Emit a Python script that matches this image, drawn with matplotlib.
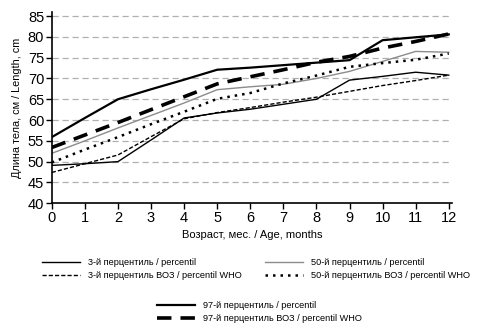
import matplotlib
matplotlib.use("Agg")
import matplotlib.pyplot as plt

plt.rcParams['font.family'] = ['Liberation Sans', 'DejaVu Sans']

months = list(range(13))
p3 = [49.1, 49.5, 50.0, 55.2, 60.5, 61.7, 62.6, 63.8, 65.0, 69.6, 70.5, 71.5, 70.8]
p3_who = [47.4, 49.5, 51.6, 56.0, 60.3, 61.8, 63.0, 64.3, 65.5, 66.9, 68.3, 69.5, 70.8]
p50 = [52.0, 55.0, 58.1, 61.1, 64.1, 67.3, 68.0, 68.6, 70.0, 71.7, 74.1, 76.5, 76.3]
p50_who = [49.8, 52.9, 55.9, 59.0, 62.0, 65.1, 66.5, 68.8, 70.7, 72.8, 73.7, 74.5, 76.0]
p97 = [55.9, 60.5, 65.0, 67.4, 69.7, 72.1, 72.6, 73.2, 73.8, 74.4, 79.2, 79.9, 80.6]
p97_who = [53.4, 56.4, 59.4, 62.5, 65.6, 68.7, 70.4, 72.1, 73.9, 75.3, 77.3, 78.9, 80.7]

labels = ["3-й перцентиль / percentil", "3-й перцентиль ВОЗ / percentil WHO",
          "50-й перцентиль / percentil", "50-й перцентиль ВОЗ / percentil WHO",
          "97-й перцентиль / percentil", "97-й перцентиль ВОЗ / percentil WHO"]

W, H = 484, 331
fig = plt.figure(figsize=(4.84, 3.31), dpi=100)
ax = fig.add_axes([0.107, 0.386, 0.827, 0.578])

l1, = ax.plot(months, p3, color='black', lw=1.0, label=labels[0])
l2, = ax.plot(months, p3_who, color='black', lw=1.0, ls=(0, (3, 1.5)), label=labels[1])
l3, = ax.plot(months, p50, color='#8c8c8c', lw=1.0, label=labels[2])
l4, = ax.plot(months, p50_who, color='black', lw=1.8, ls=(0, (1, 2)), label=labels[3])
l5, = ax.plot(months, p97, color='black', lw=1.6, label=labels[4])
l6, = ax.plot(months, p97_who, color='black', lw=2.6, ls=(0, (4, 2.5)), label=labels[5])

ax.set_xlim(0, 12.1)
ax.set_ylim(40, 86)
ax.set_xticks(months)
ax.set_yticks(range(40, 90, 5))
for v in range(45, 90, 5):
    ax.axhline(v, color='#b0b0b0', lw=0.9, ls=(0, (5, 3)), zorder=0)
for s in ['top', 'right']:
    ax.spines[s].set_visible(False)
ax.spines['left'].set_linewidth(1.2)
ax.spines['bottom'].set_linewidth(1.2)
ax.tick_params(axis='both', labelsize=10.5, length=4, width=1, pad=1.5)

ax.set_xlabel("Возраст, мес. / Age, months", fontsize=8, labelpad=4)
ax.set_ylabel("Длина тела, см / Length, cm", fontsize=7.8, labelpad=4)

fs = 6.6
common = dict(frameon=False, fontsize=fs, handlelength=38 / (fs * 100 / 72), handletextpad=0.85,
              labelspacing=0.45, borderpad=0, borderaxespad=0, loc='center left')
fig.legend(handles=[l1, l2], bbox_to_anchor=(42 / W, 1 - 269 / H), **common)
fig.legend(handles=[l3, l4], bbox_to_anchor=(265 / W, 1 - 269 / H), **common)
fig.legend(handles=[l5, l6], bbox_to_anchor=(157 / W, 1 - 312 / H), **common)

fig.savefig("out.png", dpi=100)
